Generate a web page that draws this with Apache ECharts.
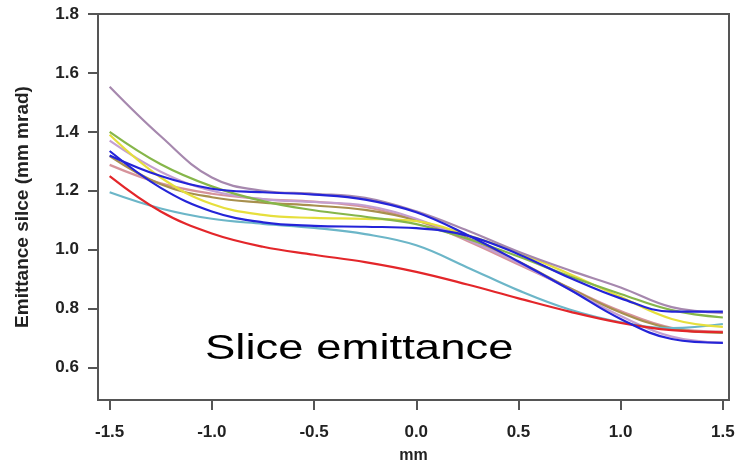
<!DOCTYPE html>
<html>
<head>
<meta charset="utf-8">
<script src="https://cdn.jsdelivr.net/npm/echarts@6/dist/echarts.min.js"></script>
<style>html,body{margin:0;padding:0;background:#fff}#c{width:735px;height:466px}</style>
</head>
<body>
<div id="c"></div>
<script>
const xs = [-1.5, -1.25, -1.0, -0.75, -0.5, -0.25, 0, 0.25, 0.5, 0.75, 1.0, 1.25, 1.5];
const red      = [1.25, 1.13, 1.055, 1.01, 0.983, 0.958, 0.925, 0.882, 0.835, 0.79, 0.752, 0.727, 0.72];
const cyan     = [1.195, 1.14, 1.105, 1.088, 1.074, 1.053, 1.015, 0.94, 0.862, 0.797, 0.754, 0.734, 0.748];
const blueA    = [1.32, 1.25, 1.207, 1.195, 1.187, 1.17, 1.127, 1.05, 0.96, 0.865, 0.765, 0.697, 0.684];
const blueB    = [1.335, 1.21, 1.13, 1.093, 1.081, 1.078, 1.073, 1.048, 0.985, 0.905, 0.835, 0.79, 0.79];
const yellow   = [1.39, 1.245, 1.155, 1.118, 1.108, 1.105, 1.097, 1.05, 0.99, 0.918, 0.84, 0.765, 0.738];
const green    = [1.40, 1.29, 1.215, 1.165, 1.134, 1.112, 1.087, 1.037, 0.977, 0.91, 0.85, 0.795, 0.77];
const mauve    = [1.553, 1.385, 1.245, 1.2, 1.19, 1.176, 1.13, 1.065, 0.993, 0.93, 0.872, 0.805, 0.786];
const lavender = [1.37, 1.265, 1.2, 1.172, 1.162, 1.15, 1.105, 1.035, 0.955, 0.865, 0.775, 0.705, 0.684];
const pink     = [1.288, 1.225, 1.19, 1.172, 1.163, 1.145, 1.1, 1.03, 0.95, 0.87, 0.792, 0.735, 0.722];
const olive    = [1.318, 1.222, 1.178, 1.16, 1.15, 1.135, 1.1, 1.04, 0.96, 0.87, 0.787, 0.732, 0.718];
const xTicks = [-1.5, -1.0, -0.5, 0.0, 0.5, 1.0, 1.5];
const yTicks = [0.6, 0.8, 1.0, 1.2, 1.4, 1.6, 1.8];

const seriesDefs = [
  ['pink', pink, '#d6939b'],
  ['olive', olive, '#a8904e'],
  ['lavender', lavender, '#c49fd0'],
  ['cyan', cyan, '#6cb6c8'],
  ['red', red, '#e3262a'],
  ['yellow', yellow, '#e6df3c'],
  ['green', green, '#86b64a'],
  ['mauve', mauve, '#a688ae'],
  ['blueB', blueB, '#2424d8'],
  ['blueA', blueA, '#2424d8']
];

const font = 'Arial, "Liberation Sans", sans-serif';
const chart = echarts.init(document.getElementById('c'));
chart.setOption({
  animation: false,
  grid: {left: 98, right: 6, top: 14, bottom: 66, show: true, borderColor: '#555', borderWidth: 2,
         outerBoundsMode: 'none', containLabel: false},
  graphic: [{
    type: 'text', left: 205, top: 332, scaleX: 1.3,
    style: {text: 'Slice emittance', font: '35px ' + font, fill: '#000'}
  }],
  xAxis: {
    type: 'value', min: -1.557, max: 1.53,
    name: 'mm', nameLocation: 'middle', nameGap: 48,
    nameTextStyle: {fontFamily: font, fontWeight: 'bold', fontSize: 16, color: '#222'},
    axisLine: {show: true, onZero: false, lineStyle: {color: '#555', width: 2}},
    axisTick: {show: true, length: 10, lineStyle: {color: '#555', width: 2}, customValues: xTicks},
    axisLabel: {customValues: xTicks, margin: 24, fontFamily: font, fontWeight: 'bold', fontSize: 17, color: '#222',
      formatter: v => v.toFixed(1)},
    splitLine: {show: false}
  },
  yAxis: {
    type: 'value', min: 0.49, max: 1.8,
    name: 'Emittance silce (mm mrad)', nameLocation: 'middle', nameGap: 66,
    nameTextStyle: {fontFamily: font, fontWeight: 'bold', fontSize: 19, color: '#222'},
    axisLine: {show: true, onZero: false, lineStyle: {color: '#555', width: 2}},
    axisTick: {show: true, length: 10, lineStyle: {color: '#555', width: 2}, customValues: yTicks},
    axisLabel: {customValues: yTicks, margin: 19, fontFamily: font, fontWeight: 'bold', fontSize: 17, color: '#222',
      formatter: v => v.toFixed(1)},
    splitLine: {show: false}
  },
  series: seriesDefs.map(([name, arr, color]) => ({
    name, type: 'line', smooth: 0.4, showSymbol: false, symbol: 'none',
    data: xs.map((x, i) => [x, arr[i]]),
    lineStyle: {color, width: 2.2}
  }))
});
</script>
</body>
</html>
